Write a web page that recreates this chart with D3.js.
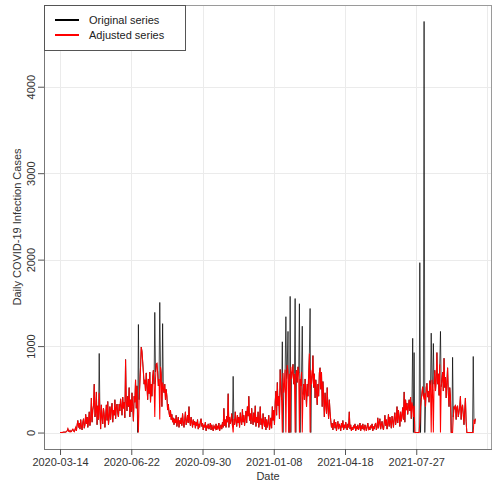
<!DOCTYPE html>
<html>
<head>
<meta charset="utf-8">
<script src="https://cdn.jsdelivr.net/npm/d3@7"></script>
<style>
  body { margin: 0; background: #fff; }
  svg { display: block; font-family: "Liberation Sans", Arial, Helvetica, sans-serif; }
</style>
</head>
<body>
<svg id="chart" width="495" height="483"></svg>
<script>
// First reporting day of the daily series
const startDate = "2020-03-14";

// Adjusted daily case counts, one value per day from startDate
const adjusted = [
  0,0,0,2,0,5,3,8,4,10,
  20,45,15,10,25,8,12,30,40,18,
  10,35,60,20,90,140,60,110,40,150,
  70,30,120,160,50,90,210,100,180,60,
  130,240,80,150,400,120,260,310,560,180,
  230,470,90,310,150,460,240,40,320,180,
  100,280,210,60,190,320,140,360,90,180,
  300,150,270,340,120,260,200,380,160,290,
  330,220,180,330,250,390,310,200,410,280,
  350,170,845,360,250,420,300,520,180,380,
  240,460,300,130,420,350,610,280,540,200,
  0,380,560,760,990,940,820,700,560,610,
  480,690,540,380,620,450,700,350,560,420,
  640,720,560,180,620,790,800,700,540,620,
  150,760,680,300,580,520,460,560,380,500,
  420,260,330,230,180,260,150,210,120,170,
  90,160,110,200,70,130,180,60,140,100,
  170,80,220,120,60,150,240,90,130,200,
  110,300,140,80,180,120,60,150,90,130,
  50,120,80,150,40,100,60,130,160,70,
  110,30,90,60,120,20,80,50,100,40,
  70,110,30,90,50,20,80,60,40,100,
  30,70,50,110,20,60,90,40,120,60,
  280,80,150,60,190,120,450,60,180,100,
  140,220,80,0,160,90,240,130,70,200,
  110,180,60,230,140,90,270,120,200,80,
  160,250,110,300,190,420,140,220,100,280,
  150,90,230,120,310,70,180,110,240,60,
  130,300,90,160,40,220,120,70,180,30,
  150,60,110,200,30,90,170,50,300,140,
  260,90,350,480,200,580,310,420,160,730,
  520,380,0,690,460,560,730,0,620,780,
  700,0,680,0,760,620,700,790,560,680,
  0,650,720,580,760,690,0,620,540,700,
  0,440,560,380,620,480,300,560,420,680,
  915,0,720,560,650,890,520,680,400,610,
  480,320,560,420,690,750,500,700,300,590,
  420,180,460,330,220,520,290,160,380,240,
  140,60,110,30,90,150,50,120,20,80,
  130,40,100,70,20,110,60,140,30,90,
  50,120,70,30,100,60,240,40,90,20,
  60,30,80,50,100,20,70,40,90,30,
  60,110,20,80,40,100,50,30,90,60,
  20,70,110,40,60,30,80,50,100,20,
  70,40,90,110,30,60,170,50,120,160,
  40,90,130,60,30,110,200,80,150,40,
  100,210,70,180,120,50,190,140,60,170,
  230,90,150,300,110,260,180,70,240,130,
  200,290,150,470,120,380,260,340,210,300,
  380,250,410,160,350,300,180,310,0,0,
  0,0,0,0,0,120,300,380,460,530,
  420,380,460,300,520,570,410,480,350,600,
  540,0,610,480,0,560,720,480,610,925,
  560,680,430,790,0,530,610,700,480,860,
  520,640,400,580,750,460,300,520,420,0,
  0,0,180,300,270,320,150,290,310,180,
  240,300,420,150,280,320,210,90,250,400,
  130,0,0,0,0,0,0,0,0,0,
  0,150,100,160
];

// Days (offset from startDate) where the original report differs from the adjusted one
const originalDays   = [55, 109, 110, 133, 134, 140, 144, 243, 312, 313, 317, 320, 322, 323, 324, 330, 331, 336, 337, 340, 351, 352, 495, 496, 497, 505, 506, 511, 512, 521, 524, 534, 551, 580];
const originalValues = [915, 0, 1250, 1390, 700, 1505, 1260, 650, 1050, 0, 1340, 1170, 0, 1575, 0, 1550, 0, 1490, 0, 1230, 1435, 0, 1090, 0, 925, 1965, 0, 4755, 0, 1150, 1030, 1170, 870, 880];

const xTickLabels = ["2020-03-14", "2020-06-22", "2020-09-30", "2021-01-08", "2021-04-18", "2021-07-27"];
const xGridLabels = ["2020-03-14", "2020-06-22", "2020-09-30", "2021-01-08", "2021-04-18", "2021-07-27", "2021-11-04"];
const yTicks = [0, 1000, 2000, 3000, 4000];

const seriesNames = ["Original series", "Adjusted series"];
const seriesColors = ["#000000", "#ff0000"];

const parse = d3.utcParse("%Y-%m-%d");
const fmt = d3.utcFormat("%Y-%m-%d");
const t0 = parse(startDate);
const DAY = 864e5;

const adjustedSeries = adjusted.map((v, i) => ({ date: new Date(t0.getTime() + i * DAY), value: v }));
const originalArr = adjusted.slice();
originalDays.forEach((d, k) => { originalArr[d] = originalValues[k]; });
const originalSeries = originalArr.map((v, i) => ({ date: new Date(t0.getTime() + i * DAY), value: v }));

// Plot region
const L = 44, R = 492, T = 5, B = 449;

const n = adjusted.length - 1;
const pad = 0.04 * n;
const x = d3.scaleUtc()
  .domain([new Date(t0.getTime() - 22.5 * DAY), new Date(t0.getTime() + (n + pad) * DAY)])
  .range([L, R]);

const ymax = d3.max(originalArr);
const y = d3.scaleLinear()
  .domain([-0.04 * ymax, ymax * 1.04])
  .range([B, T]);

const svg = d3.select("#chart");

// Grid
const grid = svg.append("g").attr("stroke", "#ebebeb").attr("stroke-width", 1);
grid.selectAll("line.v").data(xGridLabels.map(parse)).join("line")
  .attr("x1", d => Math.round(x(d)) + 0.5).attr("x2", d => Math.round(x(d)) + 0.5)
  .attr("y1", T).attr("y2", B);
grid.selectAll("line.h").data(yTicks).join("line")
  .attr("y1", d => Math.round(y(d)) + 0.5).attr("y2", d => Math.round(y(d)) + 0.5)
  .attr("x1", L).attr("x2", R);

// Series
svg.append("clipPath").attr("id", "plotclip")
  .append("rect").attr("x", L).attr("y", T).attr("width", R - L).attr("height", B - T);

const line = d3.line().x(d => x(d.date)).y(d => y(d.value));
const plot = svg.append("g").attr("clip-path", "url(#plotclip)");
plot.append("path").datum(originalSeries)
  .attr("d", line).attr("fill", "none").attr("stroke", seriesColors[0]).attr("stroke-width", 0.7);
plot.append("path").datum(adjustedSeries)
  .attr("d", line).attr("fill", "none").attr("stroke", seriesColors[1]).attr("stroke-width", 1.05);

// Frame
svg.append("rect").attr("x", L + 0.5).attr("y", T + 0.5)
  .attr("width", R - L - 1).attr("height", B - T)
  .attr("fill", "none").attr("stroke", "#9a9a9a");

// Axes
const xAxis = d3.axisBottom(x).tickValues(xTickLabels.map(parse)).tickFormat(fmt).tickSize(6).tickPadding(3);
const gx = svg.append("g").attr("transform", `translate(0,${B})`).call(xAxis);
gx.select(".domain").attr("stroke", "#777").attr("d", `M${L},0.5H${R}`);
gx.selectAll(".tick line").attr("stroke", "#555");
gx.selectAll(".tick text").attr("font-size", 11).attr("fill", "#333").attr("font-family", "Liberation Sans, Arial, sans-serif");

const yAxis = d3.axisLeft(y).tickValues(yTicks).tickSize(6).tickPadding(4).tickFormat(d3.format("d"));
const gy = svg.append("g").attr("transform", `translate(${L},0)`).call(yAxis);
gy.select(".domain").attr("stroke", "#777").attr("d", `M0.5,${T}V${B}`);
gy.selectAll(".tick line").attr("stroke", "#555");
gy.selectAll(".tick text")
  .attr("font-size", 11).attr("fill", "#333").attr("font-family", "Liberation Sans, Arial, sans-serif")
  .attr("text-anchor", "middle").attr("dy", null).attr("x", null)
  .attr("transform", "translate(-13,0) rotate(-90)")
  .attr("dominant-baseline", "central");

// Axis titles
svg.append("text").attr("x", (L + R) / 2).attr("y", 480)
  .attr("text-anchor", "middle").attr("font-size", 11).attr("fill", "#333").text("Date");
svg.append("text").attr("transform", `translate(21,${(T + B) / 2}) rotate(-90)`)
  .attr("text-anchor", "middle").attr("font-size", 11).attr("fill", "#333")
  .text("Daily COVID-19 Infection Cases");

// Legend
const lg = svg.append("g");
lg.append("rect").attr("x", L + 0.5).attr("y", T + 0.5).attr("width", 141).attr("height", 45)
  .attr("fill", "#fff").attr("stroke", "#555");
seriesNames.forEach((name, k) => {
  const yy = 20 + k * 15;
  lg.append("line").attr("x1", 55).attr("x2", 79).attr("y1", yy).attr("y2", yy)
    .attr("stroke", seriesColors[k]).attr("stroke-width", 2);
  lg.append("text").attr("x", 89).attr("y", yy).attr("dy", "0.35em")
    .attr("font-size", 11).attr("fill", "#222").text(name);
});
</script>
</body>
</html>
